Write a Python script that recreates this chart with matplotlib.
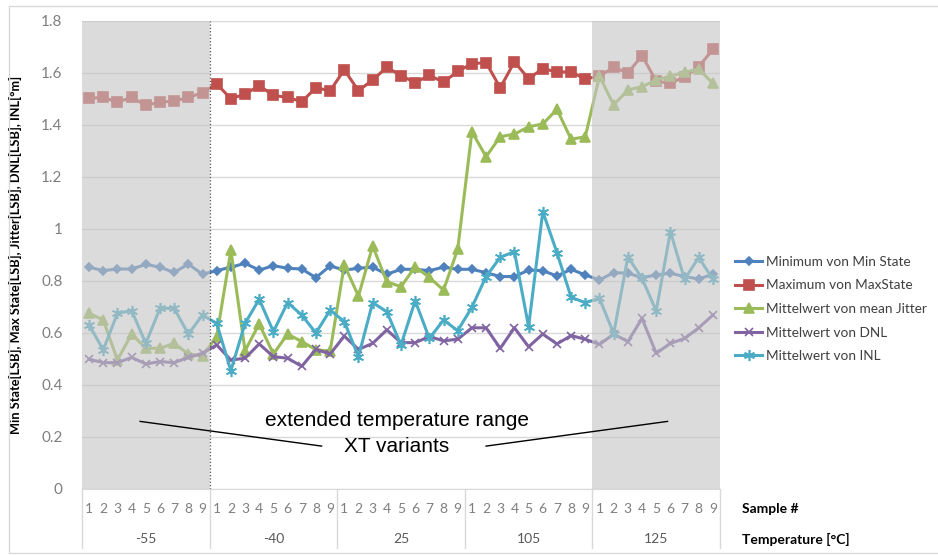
import numpy as np
import matplotlib
matplotlib.use("Agg")
import matplotlib.pyplot as plt
from matplotlib.patches import Rectangle
from matplotlib.transforms import blended_transform_factory

# --- data ---
temps = ["-55", "-40", "25", "105", "125"]
samples = ["1", "2", "3", "4", "5", "6", "7", "8", "9"]

min_state = [0.853, 0.840, 0.846, 0.846, 0.864, 0.853, 0.833, 0.865, 0.826,
             0.840, 0.853, 0.868, 0.842, 0.859, 0.849, 0.846, 0.813, 0.858,
             0.842, 0.849, 0.853, 0.826, 0.845, 0.845, 0.840, 0.853, 0.845,
             0.845, 0.832, 0.817, 0.817, 0.842, 0.840, 0.819, 0.845, 0.823,
             0.804, 0.832, 0.830, 0.813, 0.823, 0.830, 0.817, 0.808, 0.826]
max_state = [1.503, 1.506, 1.488, 1.506, 1.476, 1.488, 1.492, 1.506, 1.524,
             1.558, 1.501, 1.519, 1.551, 1.514, 1.506, 1.490, 1.543, 1.532,
             1.612, 1.532, 1.573, 1.622, 1.590, 1.563, 1.591, 1.565, 1.606,
             1.636, 1.640, 1.543, 1.643, 1.578, 1.617, 1.604, 1.604, 1.577,
             1.588, 1.622, 1.600, 1.667, 1.569, 1.560, 1.586, 1.624, 1.691]
jitter = [0.676, 0.650, 0.496, 0.596, 0.541, 0.541, 0.560, 0.519, 0.512,
          0.586, 0.919, 0.532, 0.635, 0.519, 0.596, 0.567, 0.536, 0.530,
          0.862, 0.742, 0.935, 0.797, 0.778, 0.855, 0.814, 0.765, 0.922,
          1.374, 1.278, 1.355, 1.365, 1.393, 1.404, 1.460, 1.345, 1.355,
          1.588, 1.477, 1.535, 1.547, 1.573, 1.588, 1.603, 1.615, 1.560]
dnl = [0.499, 0.486, 0.486, 0.506, 0.481, 0.490, 0.486, 0.506, 0.522,
       0.554, 0.496, 0.503, 0.558, 0.509, 0.503, 0.472, 0.537, 0.519,
       0.588, 0.537, 0.560, 0.612, 0.563, 0.563, 0.586, 0.570, 0.576,
       0.620, 0.620, 0.541, 0.620, 0.547, 0.596, 0.558, 0.590, 0.576,
       0.556, 0.596, 0.567, 0.656, 0.522, 0.560, 0.579, 0.620, 0.669]
inl = [0.631, 0.535, 0.676, 0.686, 0.560, 0.695, 0.695, 0.596, 0.669,
       0.637, 0.455, 0.637, 0.730, 0.605, 0.717, 0.669, 0.600, 0.688,
       0.644, 0.509, 0.717, 0.682, 0.554, 0.724, 0.579, 0.650, 0.609,
       0.699, 0.817, 0.891, 0.913, 0.624, 1.067, 0.909, 0.737, 0.717,
       0.733, 0.598, 0.893, 0.810, 0.685, 0.990, 0.806, 0.891, 0.806]

series = [
    ("Minimum von Min State", min_state, "#4f81bd", "D", 4.5),
    ("Maximum von MaxState", max_state, "#c0504d", "s", 6.5),
    ("Mittelwert von mean Jitter", jitter, "#9bbb59", "^", 6.5),
    ("Mittelwert von DNL", dnl, "#8064a2", "x", 6),
    ("Mittelwert von INL", inl, "#4bacc6", (6, 2, 0), 8),
]

n = len(temps) * len(samples)
x = np.arange(n)

plt.rcParams['font.family'] = ['Lato', 'DejaVu Sans']
fig = plt.figure(figsize=(9.38, 5.55), dpi=100)
ax = fig.add_axes([82/938, 66/555, 638/938, 468/555])

for label, vals, col, mk, ms in series:
    ax.plot(x, vals, color=col, lw=2.2, marker=mk, markersize=ms,
            markeredgewidth=1.2, label=label, zorder=3)

# shaded XT ranges (semi-transparent over the lines)
ax.axvspan(-0.5, 8.5, color="#c4c4c4", alpha=0.6, lw=0, zorder=4)
ax.axvspan(35.5, 44.5, color="#c4c4c4", alpha=0.6, lw=0, zorder=4)
ax.axvline(8.5, color="#555555", lw=0.9, ls=":", zorder=5)

ax.set_xlim(-0.5, n - 0.5)
ax.set_ylim(0, 1.8)
ax.set_yticks(np.arange(0, 1.81, 0.2))
ax.set_yticklabels(["0", "0.2", "0.4", "0.6", "0.8", "1", "1.2", "1.4", "1.6", "1.8"])
ax.grid(axis="y", color="#d9d9d9", lw=1, zorder=0)
ax.set_axisbelow(True)
ax.tick_params(axis="y", length=0, pad=14, labelsize=11, labelcolor="#7f7f7f")
ax.tick_params(axis="x", length=0)
ax.set_xticks([])
for s in ["top", "right", "left"]:
    ax.spines[s].set_visible(False)
ax.spines["bottom"].set_color("#d9d9d9")

ax.set_ylabel("Min State[LSB], Max State[LSB], Jitter[LSB], DNL[LSB], INL[°m]",
              fontsize=9.2, fontweight="bold", labelpad=14)

# two-level category axis
trans = blended_transform_factory(ax.transData, ax.transAxes)
for g, t in enumerate(temps):
    for k, s in enumerate(samples):
        ax.text(g * 9 + k, -0.043, s, transform=trans, ha="center", va="center",
                fontsize=10, color="#7f7f7f", clip_on=False)
    ax.text(g * 9 + 4, -0.107, t, transform=trans, ha="center", va="center",
            fontsize=10, color="#595959", clip_on=False)
for b in np.arange(-0.5, n, 9):
    ax.plot([b, b], [0, -0.125], transform=trans, color="#d9d9d9", lw=1, clip_on=False)

fig.text(742/938, 1 - 509/555, "Sample #", fontsize=10, fontweight="bold", va="center")
fig.text(742/938, 1 - 539/555, "Temperature [°C]", fontsize=10, fontweight="bold", va="center")

# annotation
ax.text(21.7, 0.265, "extended temperature range", ha="center", va="center",
        fontsize=15, family="Liberation Sans", zorder=6)
ax.text(21.7, 0.165, "XT variants", ha="center", va="center",
        fontsize=15, family="Liberation Sans", zorder=6)
ax.plot([3.6, 16.4], [0.26, 0.165], color="black", lw=1, zorder=6)
ax.plot([28.0, 40.8], [0.165, 0.26], color="black", lw=1, zorder=6)

leg = ax.legend(loc="center left", bbox_to_anchor=(735/938, 1 - 309/555),
                bbox_transform=fig.transFigure, frameon=False, fontsize=9.8,
                handlelength=2.0, handletextpad=0.25, labelspacing=0.85,
                borderpad=0, borderaxespad=0)
for t in leg.get_texts():
    t.set_color("#404040")

fig.patches.append(Rectangle((9/938, 2/555), 1.0, 547/555, transform=fig.transFigure,
                             fill=False, edgecolor="#d9d9d9", lw=1))

fig.savefig("out.png", dpi=100)
